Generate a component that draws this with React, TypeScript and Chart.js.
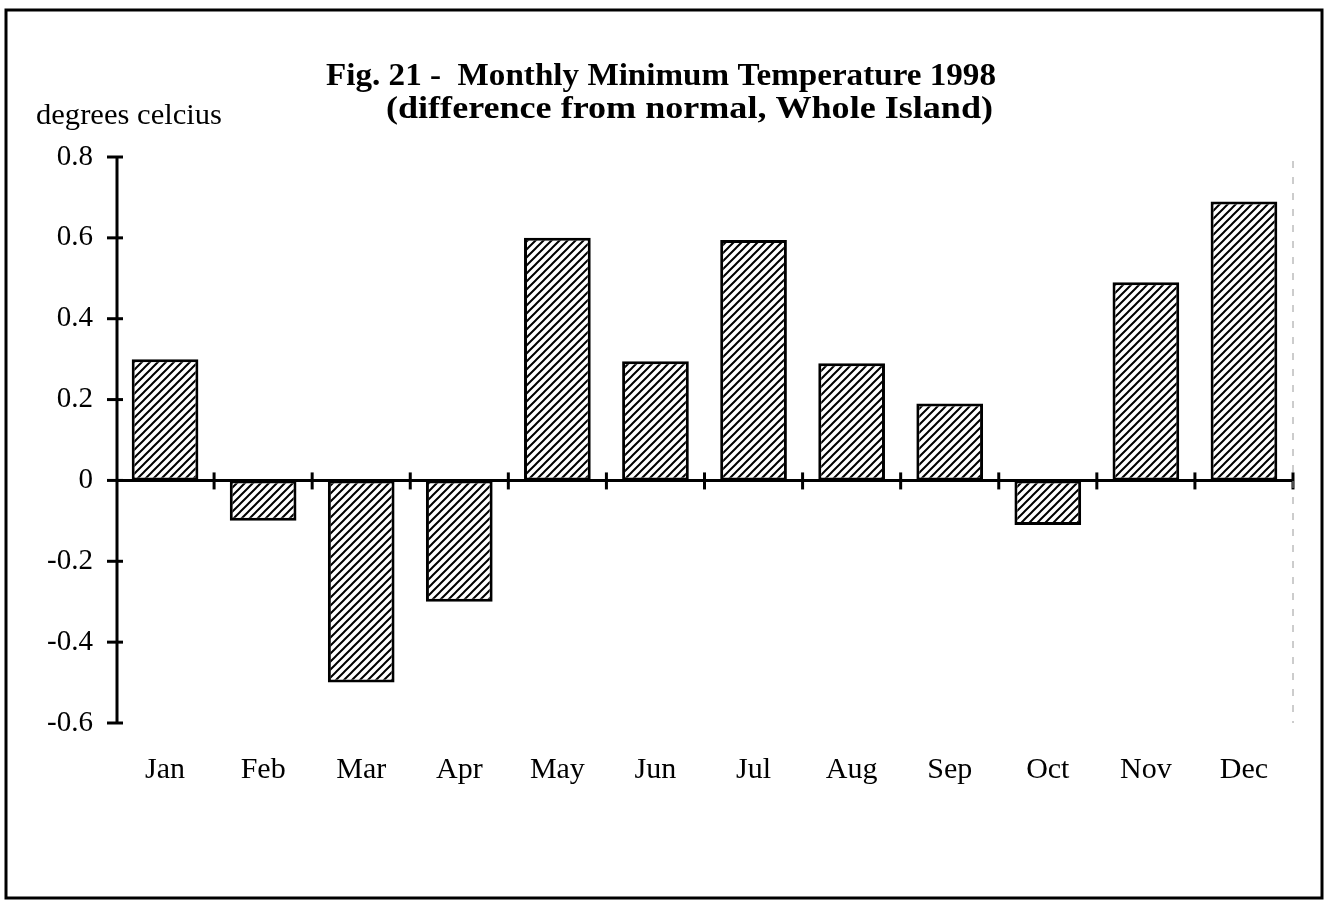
import React, { useEffect, useRef } from "react";
import { Chart, registerables } from "chart.js";

Chart.register(...registerables);

const months = ["Jan", "Feb", "Mar", "Apr", "May", "Jun", "Jul", "Aug", "Sep", "Oct", "Nov", "Dec"];
const tempDiff = [0.3, -0.1, -0.5, -0.3, 0.6, 0.295, 0.595, 0.29, 0.19, -0.11, 0.49, 0.69];
const titleLines = ["Fig. 21 -  Monthly Minimum Temperature 1998", "(difference from normal, Whole Island)"];
const unitLabel = "degrees celcius";
const yMin = -0.6;
const yMax = 0.8;
const yStep = 0.2;

const SERIF = '"Liberation Serif", "Times New Roman", serif';

function drawStretched(ctx: CanvasRenderingContext2D, text: string, font: string, x: number, y: number, width: number) {
  ctx.save();
  ctx.font = font;
  ctx.fillStyle = "#000";
  ctx.textAlign = "left";
  ctx.textBaseline = "alphabetic";
  const w = ctx.measureText(text).width;
  ctx.translate(x, y);
  ctx.scale(width / w, 1);
  ctx.fillText(text, 0, 0);
  ctx.restore();
}

const decorPlugin = {
  id: "decor",
  afterDatasetsDraw(chart: any) {
    const ctx: CanvasRenderingContext2D = chart.ctx;
    const area = chart.chartArea;
    const x = chart.scales.x;
    const y = chart.scales.y;
    const axisX = area.left + 1;
    const zeroY = y.getPixelForValue(0);
    ctx.save();
    ctx.strokeStyle = "#000";
    ctx.lineCap = "butt";
    // y axis
    ctx.lineWidth = 3;
    ctx.beginPath();
    ctx.moveTo(axisX, y.getPixelForValue(yMax) - 1);
    ctx.lineTo(axisX, y.getPixelForValue(yMin) + 1);
    ctx.stroke();
    // y ticks
    for (const t of y.ticks) {
      const py = y.getPixelForValue(t.value);
      ctx.beginPath();
      ctx.moveTo(axisX - 10, py);
      ctx.lineTo(axisX + 6, py);
      ctx.stroke();
    }
    // zero line
    ctx.beginPath();
    ctx.moveTo(axisX, zeroY);
    ctx.lineTo(area.right + 1, zeroY);
    ctx.stroke();
    // x ticks at category boundaries
    const n = months.length;
    for (let i = 1; i <= n; i++) {
      const px = i < n
        ? (x.getPixelForValue(i - 1) + x.getPixelForValue(i)) / 2
        : x.getPixelForValue(n - 1) + (x.getPixelForValue(n - 1) - x.getPixelForValue(n - 2)) / 2;
      ctx.beginPath();
      ctx.moveTo(px, zeroY - 8);
      ctx.lineTo(px, zeroY + 9);
      ctx.stroke();
    }
    // faint dashed right edge
    ctx.lineWidth = 1;
    ctx.strokeStyle = "#9a9a9a";
    ctx.setLineDash([7, 9]);
    ctx.beginPath();
    ctx.moveTo(area.right, area.top + 4);
    ctx.lineTo(area.right, area.bottom);
    ctx.stroke();
    ctx.setLineDash([]);
    // frame
    ctx.strokeStyle = "#000";
    ctx.lineWidth = 3;
    ctx.strokeRect(6, 10, 1316, 888);
    ctx.restore();
    // titles
    drawStretched(ctx, titleLines[0], `bold 32px ${SERIF}`, 326, 85, 670);
    drawStretched(ctx, titleLines[1], `bold 32px ${SERIF}`, 386, 118, 607);
    drawStretched(ctx, unitLabel, `30px ${SERIF}`, 36, 124, 186);
  },
};

export default function App() {
  const ref = useRef<HTMLCanvasElement | null>(null);
  useEffect(() => {
    const canvas = ref.current;
    if (!canvas) return;
    const ctx = canvas.getContext("2d")!;
    const pc = document.createElement("canvas");
    const s = 8;
    pc.width = s;
    pc.height = s;
    const p = pc.getContext("2d")!;
    p.fillStyle = "#fff";
    p.fillRect(0, 0, s, s);
    p.strokeStyle = "#000";
    p.lineWidth = 2;
    p.beginPath();
    p.moveTo(0, s);
    p.lineTo(s, 0);
    p.moveTo(-1, 1);
    p.lineTo(1, -1);
    p.moveTo(s - 1, s + 1);
    p.lineTo(s + 1, s - 1);
    p.stroke();
    const pattern = ctx.createPattern(pc, "repeat");

    const chart = new Chart(ctx, {
      type: "bar",
      data: {
        labels: months,
        datasets: [
          {
            data: tempDiff,
            backgroundColor: pattern as any,
            borderColor: "#000",
            borderWidth: 3,
            borderSkipped: false,
            barPercentage: 0.68,
            categoryPercentage: 1,
          },
        ],
      },
      options: {
        responsive: false,
        animation: false,
        layout: { padding: { top: 157, right: 32, bottom: 79, left: 0 } },
        plugins: { legend: { display: false }, tooltip: { enabled: false }, title: { display: false } },
        scales: {
          x: {
            grid: { display: false, drawTicks: false },
            border: { display: false },
            ticks: { color: "#000", font: { family: SERIF, size: 30 }, padding: 29, maxRotation: 0, autoSkip: false },
            afterFit: (sc: any) => { sc.height = 100; },
          },
          y: {
            min: yMin,
            max: yMax,
            grid: { display: false, drawTicks: false },
            border: { display: false },
            ticks: {
              stepSize: yStep,
              color: "#000",
              font: { family: SERIF, size: 29 },
              padding: 23,
              callback: (v: any) => (Math.abs(Number(v)) < 1e-9 ? "0" : Number(v).toFixed(1)),
            },
            afterFit: (sc: any) => { sc.width = 116; },
          },
        },
      },
      plugins: [decorPlugin],
    });
    return () => chart.destroy();
  }, []);
  return (
    <div style={{ position: "absolute", left: 0, top: 0, width: 1325, height: 902, background: "#fff" }}>
      <canvas ref={ref} width={1325} height={902} style={{ display: "block" }} />
    </div>
  );
}
